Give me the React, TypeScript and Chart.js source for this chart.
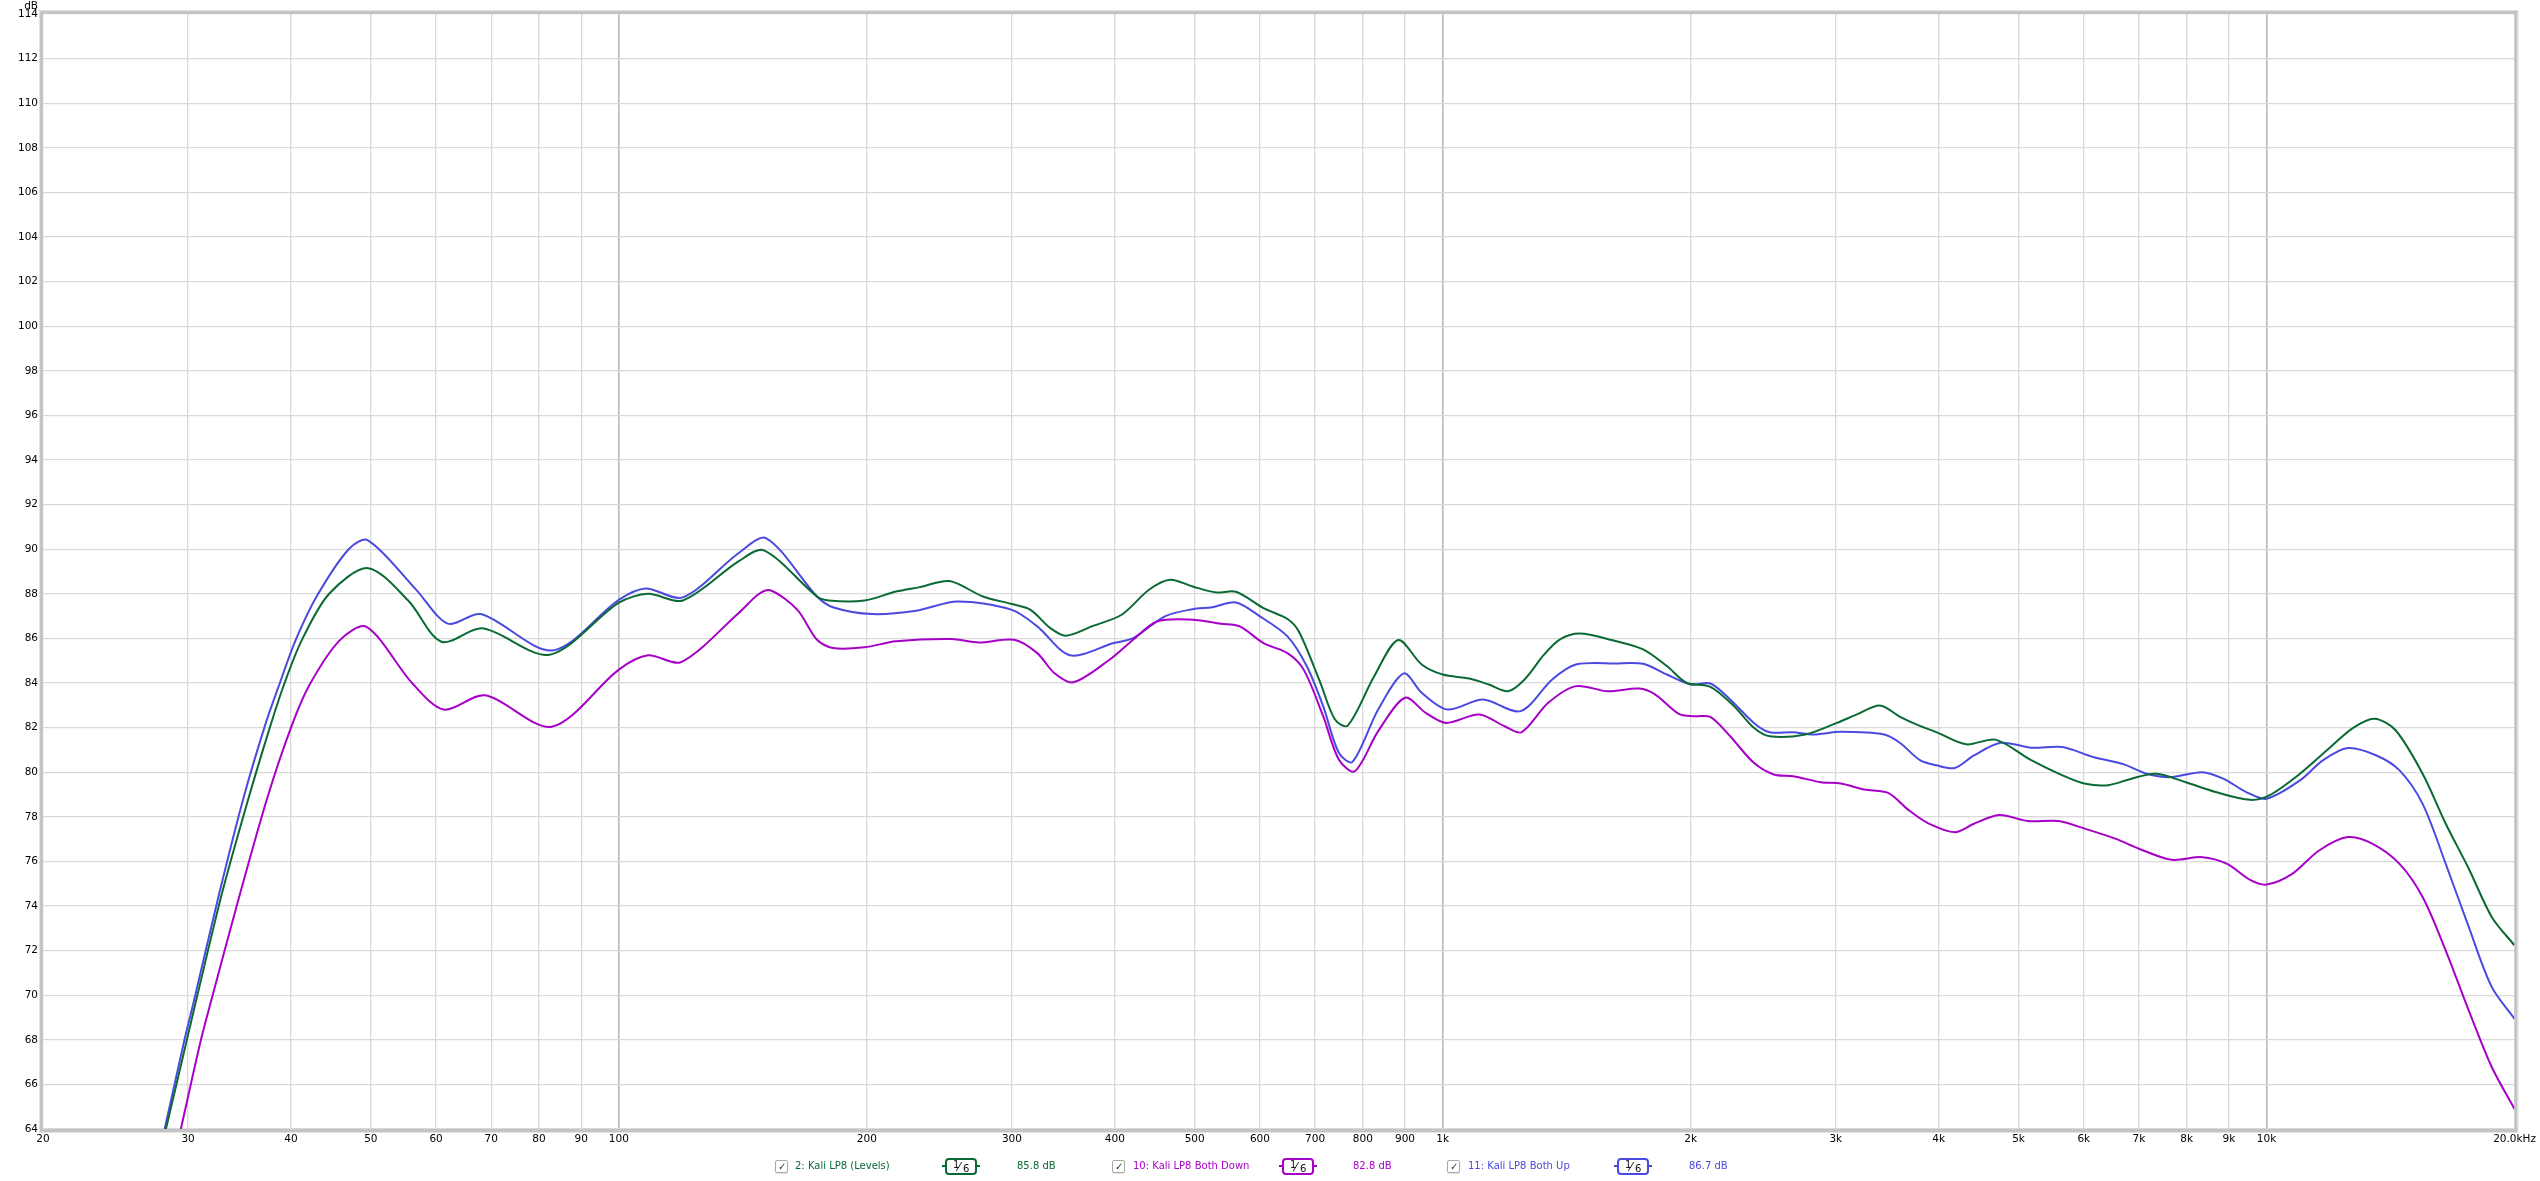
import React, { useEffect, useRef } from "react";
import { Chart, registerables } from "chart.js";

Chart.register(...registerables);

// ---------- data ----------
const xTickValues = [20, 30, 40, 50, 60, 70, 80, 90, 100, 200, 300, 400, 500, 600, 700, 800, 900, 1000, 2000, 3000, 4000, 5000, 6000, 7000, 8000, 9000, 10000, 20000];
const xTickLabels = ["20", "30", "40", "50", "60", "70", "80", "90", "100", "200", "300", "400", "500", "600", "700", "800", "900", "1k", "2k", "3k", "4k", "5k", "6k", "7k", "8k", "9k", "10k", "20.0kHz"];
const decadeTicks = [100, 1000, 10000];
const yMin = 64;
const yMax = 114;
const yStep = 2;
const yUnit = "dB";

const seriesNames = ["2: Kali LP8 (Levels)", "10: Kali LP8 Both Down", "11: Kali LP8 Both Up"];
const seriesLevels = ["85.8 dB", "82.8 dB", "86.7 dB"];
const seriesColors = ["#0a6a34", "#a700c8", "#4a4ae0"];

const greenFreq = [28.2, 29.9, 30.7, 33.0, 35.5, 37.7, 39.2, 41.2, 44.5, 49.6, 55.5, 60.9, 68.3, 82.4, 100, 108.5, 119.6, 139.7, 150, 174, 179.8, 198.7, 216.9, 231.9, 252, 276.6, 300, 316, 334, 349, 377, 407.6, 440, 466.6, 497, 531, 561, 606, 648, 669, 708, 740, 767, 826, 883, 943, 1000, 1077, 1138, 1200, 1257, 1328, 1388, 1467, 1603, 1751, 1871, 1977, 2113, 2258, 2386, 2494, 2755, 3010, 3182, 3393, 3591, 3775, 3973, 4321, 4687, 5186, 5653, 6028, 6428, 6856, 7346, 7963, 8673, 9550, 10075, 10977, 11958, 12751, 13525, 14342, 15468, 16500, 17599, 18770, 20000];
const greenDb = [64, 68, 69.8, 74.6, 78.8, 82, 83.9, 85.9, 88, 89.15, 87.7, 85.85, 86.45, 85.27, 87.6, 88.0, 87.7, 89.45, 89.95, 87.88, 87.7, 87.7, 88.1, 88.3, 88.57, 87.88, 87.54, 87.28, 86.46, 86.12, 86.57, 87.06, 88.18, 88.63, 88.33, 88.06, 88.09, 87.36, 86.87, 86.31, 84.15, 82.36, 82.09, 84.31, 85.93, 84.83, 84.38, 84.2, 83.93, 83.63, 84.16, 85.28, 85.96, 86.22, 85.93, 85.51, 84.76, 84.01, 83.83, 82.96, 81.99, 81.61, 81.69, 82.21, 82.59, 82.99, 82.48, 82.11, 81.8, 81.25, 81.46, 80.53, 79.86, 79.48, 79.42, 79.71, 79.93, 79.56, 79.11, 78.76, 78.96, 79.93, 81.13, 82.0, 82.4, 81.88, 79.93, 77.69, 75.67, 73.5, 72.23];

const magentaFreq = [29.4, 31.1, 32.0, 34.6, 37.4, 40.0, 42.1, 45.8, 49.4, 56.1, 61.3, 68.8, 82.9, 100, 108.5, 119, 139.7, 147.9, 153, 164.7, 174, 181.9, 198.7, 216.9, 253.4, 273.6, 302, 322, 337.7, 356, 394, 421, 450, 497, 538, 567, 606, 648, 678, 716, 748, 782, 835, 900, 953.6, 1010, 1107, 1189, 1246, 1343, 1451, 1585, 1732, 1810, 1934, 2021, 2113, 2233, 2386, 2522, 2664, 2877, 3043, 3250, 3473, 3672, 3880, 4185, 4414, 4735, 5130, 5592, 6028, 6564, 7000, 7671, 8354, 8957, 9550, 10000, 10743, 11581, 12549, 13451, 14502, 15468, 16500, 17599, 18770, 20000];
const magentaDb = [64, 68, 69.75, 74.4, 78.8, 82, 83.9, 85.9, 86.52, 84, 82.81, 83.45, 82.04, 84.6, 85.24, 84.94, 87.13, 87.99, 88.15, 87.28, 85.94, 85.57, 85.6, 85.87, 85.97, 85.82, 85.94, 85.34, 84.45, 84.03, 85.04, 85.94, 86.76, 86.84, 86.66, 86.54, 85.79, 85.34, 84.6, 82.51, 80.57, 80.04, 81.84, 83.34, 82.66, 82.21, 82.59, 82.06, 81.79, 83.11, 83.86, 83.63, 83.75, 83.49, 82.62, 82.51, 82.48, 81.61, 80.42, 79.9, 79.82, 79.55, 79.49, 79.22, 79.07, 78.32, 77.72, 77.31, 77.69, 78.08, 77.81, 77.81, 77.46, 77.01, 76.57, 76.07, 76.19, 75.89, 75.17, 74.96, 75.44, 76.49, 77.09, 76.79, 75.89, 74.4, 72.0, 69.31, 66.77, 64.9];

const blueFreq = [28.1, 29.7, 30.5, 32.7, 35.0, 37.2, 38.6, 40.5, 43.0, 47.0, 49.6, 56.7, 62.0, 68.0, 83.1, 100, 107.8, 119.6, 139.7, 151, 174, 181.9, 203, 229.4, 257.6, 300, 322, 353, 398.5, 421, 460, 497, 525, 561, 600, 648, 684, 716, 748, 777, 835, 897, 943, 1013, 1119, 1243, 1358, 1451, 1621, 1751, 1871, 2000, 2113, 2233, 2386, 2494, 2664, 2814, 3043, 3434, 3591, 3795, 3973, 4185, 4414, 4757, 5186, 5653, 6161, 6713, 7155, 7630, 8354, 8860, 9449, 10000, 10977, 11704, 12549, 13594, 14502, 15468, 16500, 17599, 18770, 20000];
const blueDb = [64, 68, 69.75, 74.5, 78.8, 82.1, 83.8, 85.9, 87.9, 90, 90.4, 88.2, 86.66, 87.09, 85.46, 87.73, 88.24, 87.84, 89.82, 90.49, 87.88, 87.4, 87.09, 87.24, 87.66, 87.28, 86.54, 85.24, 85.79, 86.01, 86.99, 87.31, 87.4, 87.61, 86.99, 86.09, 84.75, 82.96, 80.87, 80.46, 82.81, 84.43, 83.56, 82.81, 83.26, 82.74, 84.16, 84.83, 84.88, 84.86, 84.38, 83.93, 83.98, 83.26, 82.21, 81.79, 81.79, 81.69, 81.81, 81.69, 81.31, 80.54, 80.31, 80.19, 80.75, 81.32, 81.1, 81.13, 80.68, 80.35, 79.93, 79.78, 80.0, 79.71, 79.11, 78.81, 79.63, 80.53, 81.08, 80.75, 80.08, 78.58, 75.89, 73.05, 70.36, 68.94];

const seriesFreqs = [greenFreq, magentaFreq, blueFreq];
const seriesDbs = [greenDb, magentaDb, blueDb];

// ---------- layout / style ----------
const W = 2540;
const H = 1181;
const FONT = '"DejaVu Sans", Verdana, sans-serif';

const framePlugin = {
  id: "frame",
  afterDraw(chart: any) {
    const { ctx, chartArea: a } = chart;
    ctx.save();
    ctx.strokeStyle = "#c4c4c4";
    ctx.lineWidth = 3;
    ctx.strokeRect(a.left - 1.5, a.top - 1.5, a.right - a.left + 3, a.bottom - a.top + 3);
    ctx.strokeStyle = "#e2e2e2";
    ctx.lineWidth = 1;
    ctx.strokeRect(a.left - 3.5, a.top - 3.5, a.right - a.left + 7, a.bottom - a.top + 7);
    ctx.fillStyle = "#000";
    ctx.font = `10.5px ${FONT}`;
    ctx.textAlign = "right";
    ctx.textBaseline = "middle";
    ctx.fillText(yUnit, a.left - 5, 6);
    ctx.restore();
  },
};

function Checkbox() {
  return (
    <div
      style={{
        width: 11,
        height: 11,
        border: "1px solid #a8a8a8",
        borderRadius: 2,
        background: "#fff",
        display: "flex",
        alignItems: "center",
        justifyContent: "center",
        fontSize: 10,
        color: "#333",
        lineHeight: "11px",
        boxShadow: "0 1px 1px rgba(0,0,0,0.1)",
      }}
    >
      ✓
    </div>
  );
}

function SmoothBox({ color }: { color: string }) {
  return (
    <div style={{ position: "relative", width: 38, height: 17 }}>
      <div style={{ position: "absolute", left: 0, top: 7, width: 4, height: 2, background: color }} />
      <div style={{ position: "absolute", right: 0, top: 7, width: 4, height: 2, background: color }} />
      <div
        style={{
          position: "absolute",
          left: 3,
          top: 0,
          width: 28,
          height: 13,
          border: `2px solid ${color}`,
          borderRadius: 4,
          background: "#fff",
          fontFamily: FONT,
          fontSize: 10,
          color: "#111",
        }}
      >
        <span style={{ position: "absolute", left: 6, top: -1 }}>1</span>
        <span style={{ position: "absolute", left: 11, top: 0, fontSize: 12 }}>⁄</span>
        <span style={{ position: "absolute", left: 16, top: 3 }}>6</span>
      </div>
    </div>
  );
}

const legendCheckX = [775, 1112, 1447];
const legendTextX = [795, 1133, 1468];
const legendBoxX = [942, 1279, 1614];
const legendValX = [1017, 1353, 1689];

export default function App() {
  const canvasRef = useRef<HTMLCanvasElement | null>(null);

  useEffect(() => {
    const canvas = canvasRef.current;
    if (!canvas) return;
    const datasets = seriesNames.map((name, i) => ({
      label: name,
      data: seriesFreqs[i].map((f, j) => ({ x: f, y: seriesDbs[i][j] })),
      borderColor: seriesColors[i],
      backgroundColor: seriesColors[i],
      borderWidth: 2,
      pointRadius: 0,
      fill: false,
      tension: 0.3,
    }));

    const chart = new Chart(canvas, {
      type: "line",
      data: { datasets },
      options: {
        animation: false,
        responsive: false,
        devicePixelRatio: 1,
        layout: { padding: { top: 14, right: 22, left: 0, bottom: 0 } },
        plugins: { legend: { display: false }, tooltip: { enabled: false } },
        scales: {
          x: {
            type: "logarithmic",
            min: 20,
            max: 20000,
            afterBuildTicks: (scale: any) => {
              scale.ticks = xTickValues.map((v) => ({ value: v }));
            },
            afterFit: (scale: any) => {
              scale.height = 52;
            },
            border: { display: false },
            grid: {
              drawTicks: false,
              color: (ctx: any) => (decadeTicks.includes(ctx.tick?.value) ? "#b9b9b9" : "#d9d9d9"),
              lineWidth: (ctx: any) => (decadeTicks.includes(ctx.tick?.value) ? 1.6 : 1.3),
            },
            ticks: {
              autoSkip: false,
              maxRotation: 0,
              minRotation: 0,
              padding: 4,
              color: "#000",
              font: { family: FONT, size: 10.5 },
              callback: (value: any) => {
                const idx = xTickValues.indexOf(Number(value));
                return idx >= 0 ? xTickLabels[idx] : "";
              },
            },
          },
          y: {
            type: "linear",
            min: yMin,
            max: yMax,
            afterFit: (scale: any) => {
              scale.width = 43;
            },
            border: { display: false },
            grid: { drawTicks: false, color: "#d9d9d9", lineWidth: 1.3 },
            ticks: {
              stepSize: yStep,
              padding: 5,
              color: "#000",
              font: { family: FONT, size: 10.5 },
            },
          },
        },
      },
      plugins: [framePlugin],
    });
    return () => chart.destroy();
  }, []);

  return (
    <div style={{ position: "absolute", left: 0, top: 0, width: W, height: H, background: "#fff", overflow: "hidden" }}>
      <canvas ref={canvasRef} width={W} height={H} style={{ display: "block", width: W, height: H }} />
      {seriesNames.map((name, i) => (
        <React.Fragment key={name}>
          <div style={{ position: "absolute", left: legendCheckX[i], top: 1160 }}>
            <Checkbox />
          </div>
          <div
            style={{
              position: "absolute",
              left: legendTextX[i],
              top: 1159,
              fontFamily: FONT,
              fontSize: 10,
              color: seriesColors[i],
              whiteSpace: "nowrap",
              lineHeight: "14px",
            }}
          >
            {name}
          </div>
          <div style={{ position: "absolute", left: legendBoxX[i], top: 1158 }}>
            <SmoothBox color={seriesColors[i]} />
          </div>
          <div
            style={{
              position: "absolute",
              left: legendValX[i],
              top: 1159,
              fontFamily: FONT,
              fontSize: 10,
              color: seriesColors[i],
              whiteSpace: "nowrap",
              lineHeight: "14px",
            }}
          >
            {seriesLevels[i]}
          </div>
        </React.Fragment>
      ))}
    </div>
  );
}
